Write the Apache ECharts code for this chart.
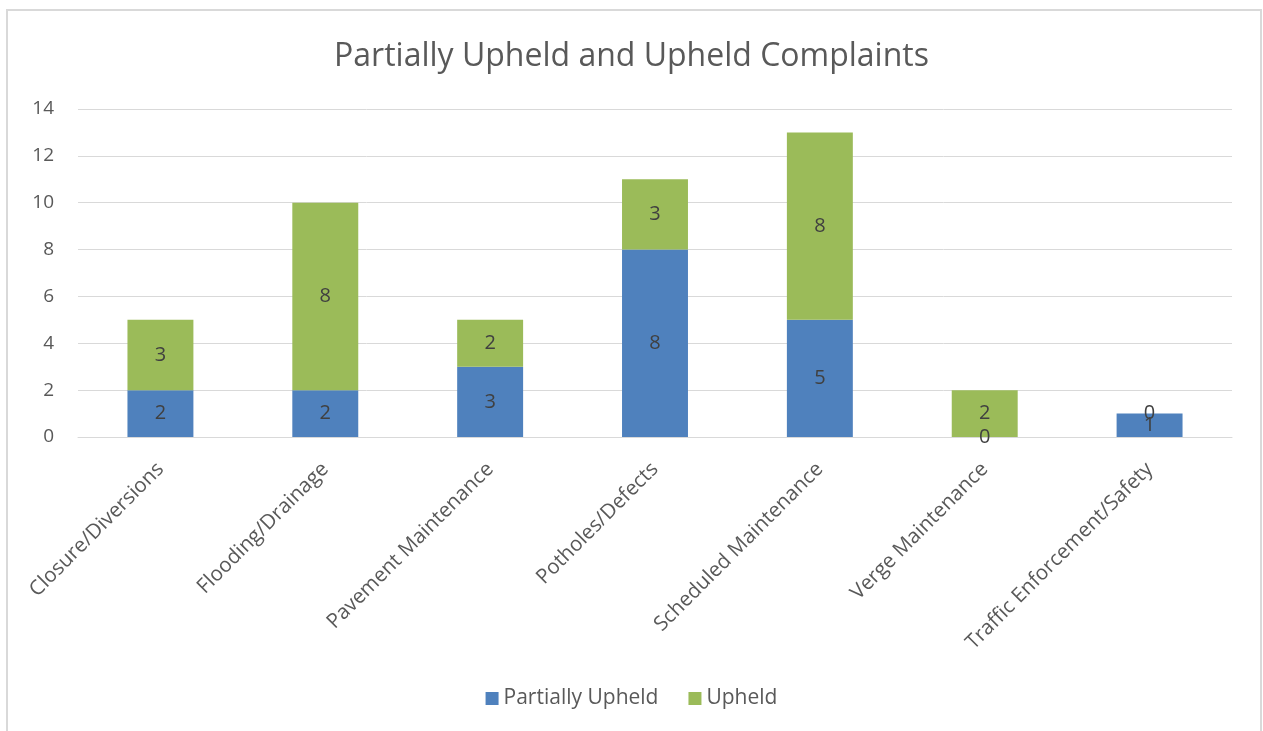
<!DOCTYPE html>
<html>
  <head>
    <meta charset="utf-8" />
    <title>Partially Upheld and Upheld Complaints</title>
    <script src="https://cdn.jsdelivr.net/npm/echarts@6/dist/echarts.min.js"></script>
    <style>
      html, body { margin: 0; padding: 0; background: #fff; }
      #chart { width: 1263px; height: 731px; }
    </style>
  </head>
  <body>
    <div id="chart"></div>
    <script type="text/javascript">
      // chart data
      var categories = [
        "Closure/Diversions",
        "Flooding/Drainage",
        "Pavement Maintenance",
        "Potholes/Defects",
        "Scheduled Maintenance",
        "Verge Maintenance",
        "Traffic Enforcement/Safety",
      ];
      var partiallyUpheld = [2, 2, 3, 8, 5, 0, 1];
      var upheld = [3, 8, 2, 3, 8, 2, 0];
      var seriesNames = ["Partially Upheld", "Upheld"];

      var font = "'Open Sans', 'Noto Sans', sans-serif";
      var labelStyle = {
        show: true,
        position: "inside",
        color: "#404040",
        fontSize: 20,
        fontFamily: font,
      };

      var myChart = echarts.init(document.getElementById("chart"));
      var option = {
        animation: false,
        title: {
          text: "Partially Upheld and Upheld Complaints",
          left: "center",
          top: 36,
          textStyle: {
            color: "#595959",
            fontSize: 32,
            fontWeight: "normal",
            fontFamily: font,
          },
        },
        legend: {
          data: seriesNames,
          bottom: 17,
          left: "center",
          icon: "rect",
          itemWidth: 13,
          itemHeight: 13,
          itemGap: 30,
          textStyle: { color: "#595959", fontSize: 21, fontFamily: font },
        },
        graphic: [
          {
            type: "rect",
            shape: { x: 7, y: 10, width: 1254, height: 740 },
            style: { fill: "none", stroke: "#d9d9d9", lineWidth: 2 },
          },
        ],
        grid: {
          left: 78,
          right: 31,
          top: 109,
          bottom: 294,
        },
        xAxis: {
          type: "category",
          data: categories,
          axisLine: { lineStyle: { color: "#d9d9d9", width: 1 } },
          axisTick: { show: false },
          axisLabel: {
            rotate: 45,
            interval: 0,
            color: "#595959",
            fontSize: 20.5,
            fontFamily: font,
            margin: 29,
          },
        },
        yAxis: {
          type: "value",
          min: 0,
          max: 14,
          interval: 2,
          axisLine: { show: false },
          axisTick: { show: false },
          splitLine: { lineStyle: { color: "#d9d9d9", width: 1 } },
          axisLabel: {
            color: "#595959",
            fontSize: 19,
            fontFamily: font,
            margin: 24,
          },
        },
        series: [
          {
            name: seriesNames[0],
            type: "bar",
            stack: "total",
            data: partiallyUpheld,
            barWidth: "40%",
            itemStyle: { color: "#4f81bd" },
            label: labelStyle,
          },
          {
            name: seriesNames[1],
            type: "bar",
            stack: "total",
            data: upheld,
            barWidth: "40%",
            itemStyle: { color: "#9bbb59" },
            label: labelStyle,
          },
        ],
      };
      myChart.setOption(option);
    </script>
  </body>
</html>
